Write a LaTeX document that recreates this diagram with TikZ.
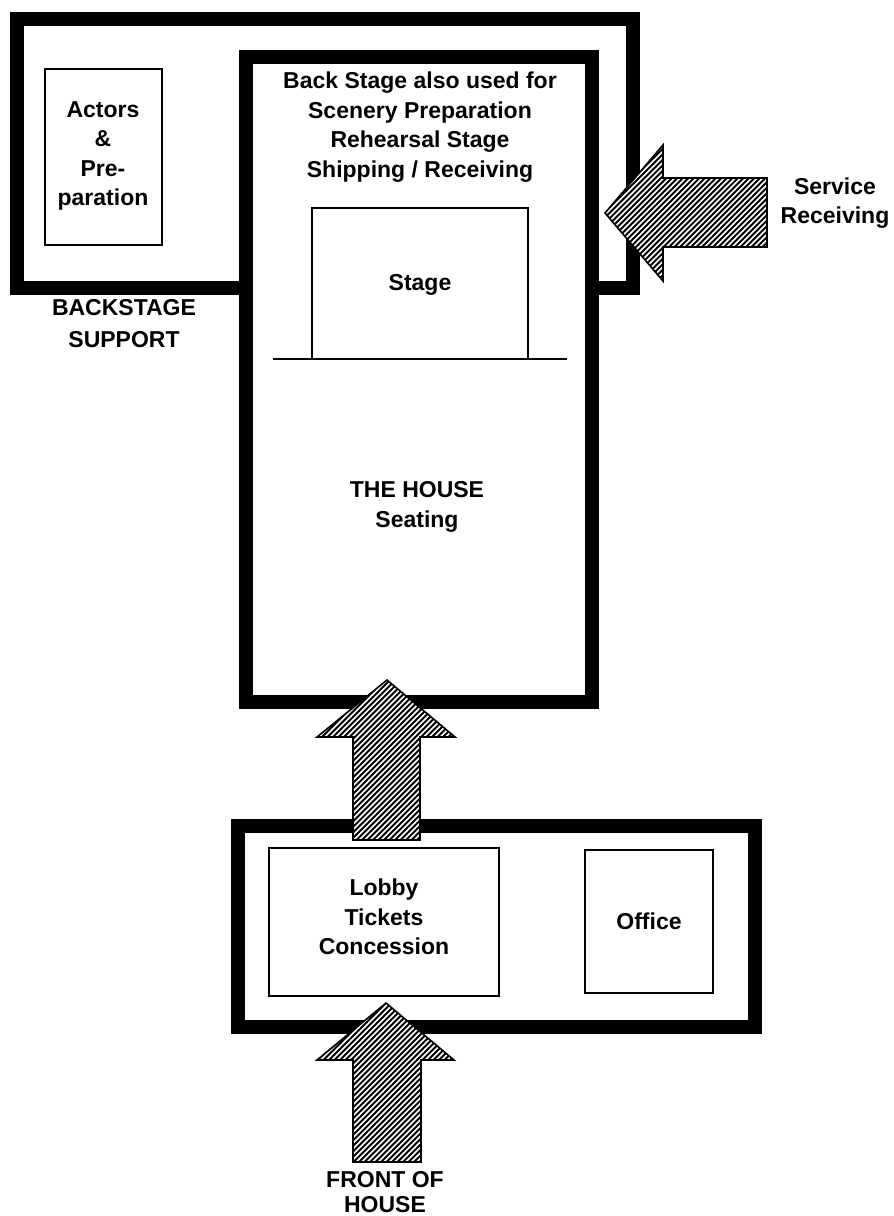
\documentclass[tikz,border=0pt]{standalone}
\usepackage{fontspec}
\setmainfont{Liberation Sans}
\newcommand{\hatchpoly}[1]{%
  \fill[white] #1;
  \begin{scope}
    \clip #1;
    \foreach \k in {740,745.5,...,1640} \draw[line width=1.9pt] (\k,0) -- ++(-1300,1300);
  \end{scope}
  \draw[line width=1.6pt, line join=miter] #1;}
\begin{document}
\begin{tikzpicture}[x=1pt,y=-1pt,
  heavy/.style={draw=black, line width=14pt, line join=miter},
  thinbox/.style={draw=black, line width=1.8pt},
  lbl/.style={font=\fontsize{23}{29.5}\selectfont\bfseries, align=center, inner sep=0pt}]
\useasboundingbox (0,0) rectangle (894,1216);
\fill[white] (0,0) rectangle (894,1216);

% backstage support box
\draw[heavy] (17,19) rectangle (633,288);
% actors box
\draw[thinbox] (45,69) rectangle (162,245);
\node[lbl] (actors) at (103,156) {Actors\\\&\\Pre-\\paration};

% house box
\draw[heavy, fill=white] (246,57) rectangle (592,702);
\node[lbl] (backtxt) at (420,127) {Back Stage also used for\\Scenery Preparation\\Rehearsal Stage\\Shipping / Receiving};
% stage
\draw[thinbox] (312,359) -- (312,208) -- (528,208) -- (528,359);
\draw[thinbox] (273,359) -- (567,359);
\node[lbl] (stage) at (420,285) {Stage};
\node[lbl] (house) at (417,507) {THE HOUSE\\Seating};

\node[lbl, font=\fontsize{23}{32}\selectfont\bfseries] (bsupport) at (124,324) {BACKSTAGE\\SUPPORT};

% lobby block
\draw[heavy] (238,826) rectangle (755,1027);
\draw[thinbox] (269,848) rectangle (499,996);
\node[lbl] (lobby) at (384,917) {Lobby\\Tickets\\Concession};
\draw[thinbox] (585,850) rectangle (713,993);
\node[lbl] (office) at (649,921) {Office};

% hatched block arrows
\hatchpoly{(387,680) -- (455,737) -- (420,737) -- (420,840) -- (353,840) -- (353,737) -- (317,737) -- cycle}
\hatchpoly{(386,1003) -- (454,1060) -- (421,1060) -- (421,1162) -- (353,1162) -- (353,1060) -- (317,1060) -- cycle}
\hatchpoly{(605,213) -- (663,145) -- (663,178) -- (767,178) -- (767,247) -- (663,247) -- (663,281) -- cycle}

\node[lbl] (service) at (835,203) {Service\\Receiving};
\node[lbl, font=\fontsize{23}{25}\selectfont\bfseries] (front) at (385,1192) {FRONT OF\\HOUSE};
\end{tikzpicture}
\end{document}
